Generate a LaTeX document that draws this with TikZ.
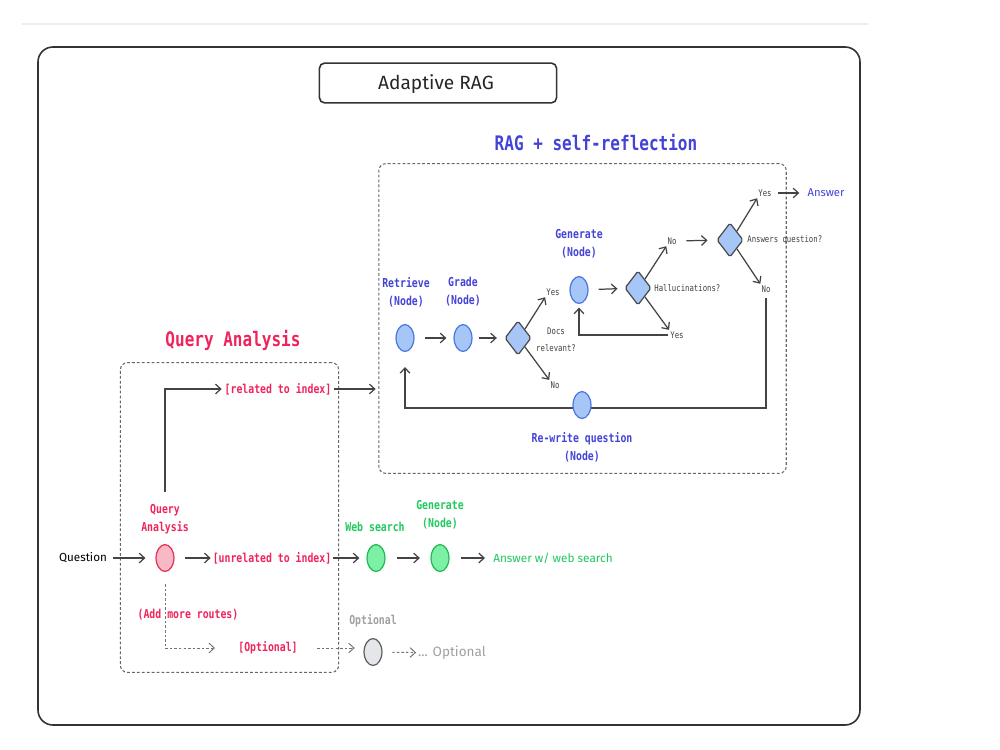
\documentclass[tikz,border=0pt]{standalone}
\usepackage{fontspec}
\setmainfont{Fira Sans}
\setmonofont{DejaVu Sans Mono}
\newfontfamily\codefont[FakeStretch=0.8]{DejaVu Sans Mono}
\usetikzlibrary{arrows.meta,shapes.geometric}
\definecolor{bluet}{HTML}{4343D6}
\definecolor{nbfill}{HTML}{A5C6F7}
\definecolor{nbdraw}{HTML}{4B79E0}
\definecolor{redt}{HTML}{F0245C}
\definecolor{pkfill}{HTML}{F8B9C6}
\definecolor{pkdraw}{HTML}{E8305A}
\definecolor{greent}{HTML}{20C95E}
\definecolor{grfill}{HTML}{7CF0A4}
\definecolor{grdraw}{HTML}{22B85A}
\definecolor{grayt}{HTML}{A0A0A0}
\definecolor{gyfill}{HTML}{E4E6EA}
\definecolor{gydraw}{HTML}{606060}
\definecolor{linec}{HTML}{444444}
\newcommand{\hw}[2]{\resizebox{#1}{!}{#2}}
\begin{document}
\begin{tikzpicture}[x=0.02cm,y=-0.02cm,
  mono/.style={font=\codefont\bfseries\fontsize{7}{10.2}\selectfont, align=center, inner sep=0},
  smalll/.style={font=\codefont\fontsize{5.2}{9.6}\selectfont, align=center, inner sep=0, text=black!75},
  bigt/.style={font=\codefont\bfseries\fontsize{11.4}{13}\selectfont, inner sep=0},
  hand/.style={inner sep=0},
  arr/.style={draw=linec, line width=0.7pt, -{Straight Barb[length=3pt,width=5.5pt]}},
  darr/.style={draw=black!55, line width=0.55pt, dash pattern=on 1.4pt off 1.2pt, -{Straight Barb[length=3pt,width=5.5pt]}},
  dashbox/.style={draw=black!60, line width=0.6pt, dash pattern=on 1.6pt off 1.2pt, rounded corners=4pt, inner sep=0},
  circ/.style={ellipse, line width=0.7pt, minimum width=10.2pt, minimum height=15.3pt, inner sep=0},
  bluenode/.style={circ, draw=nbdraw, fill=nbfill},
  pinknode/.style={circ, draw=pkdraw, fill=pkfill},
  greennode/.style={circ, draw=grdraw, fill=grfill},
  graynode/.style={circ, draw=gydraw, fill=gyfill},
  dia/.style={diamond, draw=black!70, fill=nbfill, line width=0.7pt, minimum width=15pt, minimum height=19.5pt, inner sep=0, rounded corners=1pt}
]
\useasboundingbox (0,0) rectangle (1000,750);
\fill[white] (0,0) rectangle (1000,750);
% faint top line
\draw[draw=black!7, line width=1.2pt] (22,24) -- (868,24);
% outer frame
\draw[draw=black!80, line width=0.9pt, rounded corners=8.5pt] (38,47) rectangle (860,725);
% title
\node[draw=black!80, line width=0.9pt, rounded corners=3pt, minimum width=135pt, minimum height=22.7pt, inner sep=0] (title) at (438,83) {};
\node[hand, text=black!85] (titlet) at (436,84) {\hw{65.8pt}{Adaptive RAG}};

% ---------- RAG + self-reflection ----------
\node[bigt, text=bluet] (ragt) at (596,143) {RAG + self-reflection};
\node[dashbox, minimum width=231.9pt, minimum height=176.3pt] (ragbox) at (582.5,318.5) {};

\node[bluenode] (ret) at (405,338) {};
\node[bluenode] (grd) at (463,338) {};
\node[dia] (d1) at (518,338) {};
\node[bluenode] (gen) at (579,290) {};
\node[dia] (d2) at (638,288) {};
\node[dia] (d3) at (730,240) {};

\node[mono, text=bluet] (retl) at (406,292) {Retrieve\\(Node)};
\node[mono, text=bluet] (grdl) at (463,292) {Grade\\(Node)};
\node[mono, text=bluet] (genl) at (579,244) {Generate\\(Node)};
\node[mono, text=bluet] (rewl) at (582,447) {Re-write question\\(Node)};

\node[smalll] (d1l) at (556,340) {Docs\\relevant?};
\node[smalll] (y1) at (553,292) {Yes};
\node[smalll] (n1) at (555,385) {No};
\node[smalll, anchor=west] (d2l) at (654,288) {Hallucinations?};
\node[smalll] (n2) at (672,241) {No};
\node[smalll] (y2) at (677,335) {Yes};
\node[smalll, anchor=west] (d3l) at (747,240) {Answers question?};
\node[smalll] (y3) at (765,193) {Yes};
\node[smalll] (n3) at (766,289) {No};
\node[hand, text=bluet] (ans) at (826,193) {\hw{21pt}{Answer}};

\draw[arr, shorten <=6pt, shorten >=4pt] (ret) -- (grd);
\draw[arr, shorten <=3.4pt, shorten >=4.2pt] (grd) -- (d1);
\draw[arr, shorten >=1pt] (d1.north east) -- (y1.south west);
\draw[arr, shorten >=1pt] (d1.south east) -- (n1.north west);
\draw[arr, shorten <=5.7pt, shorten >=4pt] (gen) -- (d2);
\draw[arr, shorten >=1pt] (d2.north east) -- (n2.south west);
\draw[arr, shorten >=1pt] (d2.south east) -- (y2.north west);
\draw[arr, shorten <=5.5pt, shorten >=5pt] (n2) -- (d3);
\draw[arr, shorten >=1pt] (d3.north east) -- (y3.south west);
\draw[arr, shorten >=1pt] (d3.south east) -- (n3.north west);
\draw[arr, shorten <=3.4pt, shorten >=4.5pt] (y3) -- (ans);
\draw[arr, shorten <=1pt, shorten >=2pt] (y2.west) -- (gen |- y2) -- (gen.south);
\coordinate (rewc) at (582,408);
\draw[arr, shorten <=3pt, shorten >=8.5pt] (n3.south) -- (n3.south |- rewc) -- (ret |- rewc) -- (ret.south);
\node[bluenode] (rew) at (582,405) {};

% ---------- Query Analysis ----------
\node[bigt, text=redt] (qat) at (233,340) {Query Analysis};
\node[dashbox, minimum width=124.2pt, minimum height=176.3pt] (qabox) at (229.5,517.5) {};

\node[mono, text=redt] (qal) at (165,519) {Query\\Analysis};
\node[pinknode] (qa) at (165,558) {};
\node[hand, text=black] (q) at (83,558) {\hw{27.2pt}{Question}};
\node[mono, text=redt] (rel) at (278,389) {[related to index]};
\node[mono, text=redt] (unrel) at (272,558) {[unrelated to index]};
\node[mono, text=redt] (addl) at (188,615) {(Add more routes)};
\node[mono, text=redt] (opt) at (268,648) {[Optional]};

\draw[arr, shorten <=3.4pt, shorten >=5.7pt] (q) -- (qa);
\draw[arr, shorten <=6pt, shorten >=1pt] (qa) -- (unrel);
\draw[arr, shorten <=7pt, shorten >=1.5pt] (qal.north) -- (qal.north |- rel) -- (rel.west);
\draw[arr, shorten <=1.5pt, shorten >=1.5pt] (rel.east) -- (ragbox.west |- rel);

% ---------- Web search ----------
\node[greennode] (ws) at (376,558) {};
\node[mono, text=greent] (wsl) at (375,527) {Web search};
\node[greennode] (gen2) at (440,558) {};
\node[mono, text=greent] (gen2l) at (440,515) {Generate\\(Node)};
\node[hand, text=greent] (aws) at (553,558) {\hw{68pt}{Answer w/ web search}};
\draw[arr, shorten <=1pt, shorten >=4pt] (unrel.east) -- (ws);
\draw[arr, shorten <=6.5pt, shorten >=6pt] (ws) -- (gen2);
\draw[arr, shorten <=6.5pt, shorten >=4.5pt] (gen2) -- (aws);

% ---------- Optional ----------
\coordinate (optend) at (215,648);
\draw[darr, shorten <=7pt] (qa.south) -- (qa.south |- optend) -- (optend);
\node[graynode] (optn) at (373,652) {};
\node[mono, text=grayt] (optl) at (373,621) {Optional};
\node[hand, text=grayt] (more) at (452,653) {\hw{38.5pt}{... Optional}};
\draw[darr, shorten <=11pt, shorten >=5pt] (opt.east) -- (optn.west |- opt);
\draw[darr, shorten <=5.5pt, shorten >=1pt] (optn) -- (more);
\end{tikzpicture}
\end{document}
